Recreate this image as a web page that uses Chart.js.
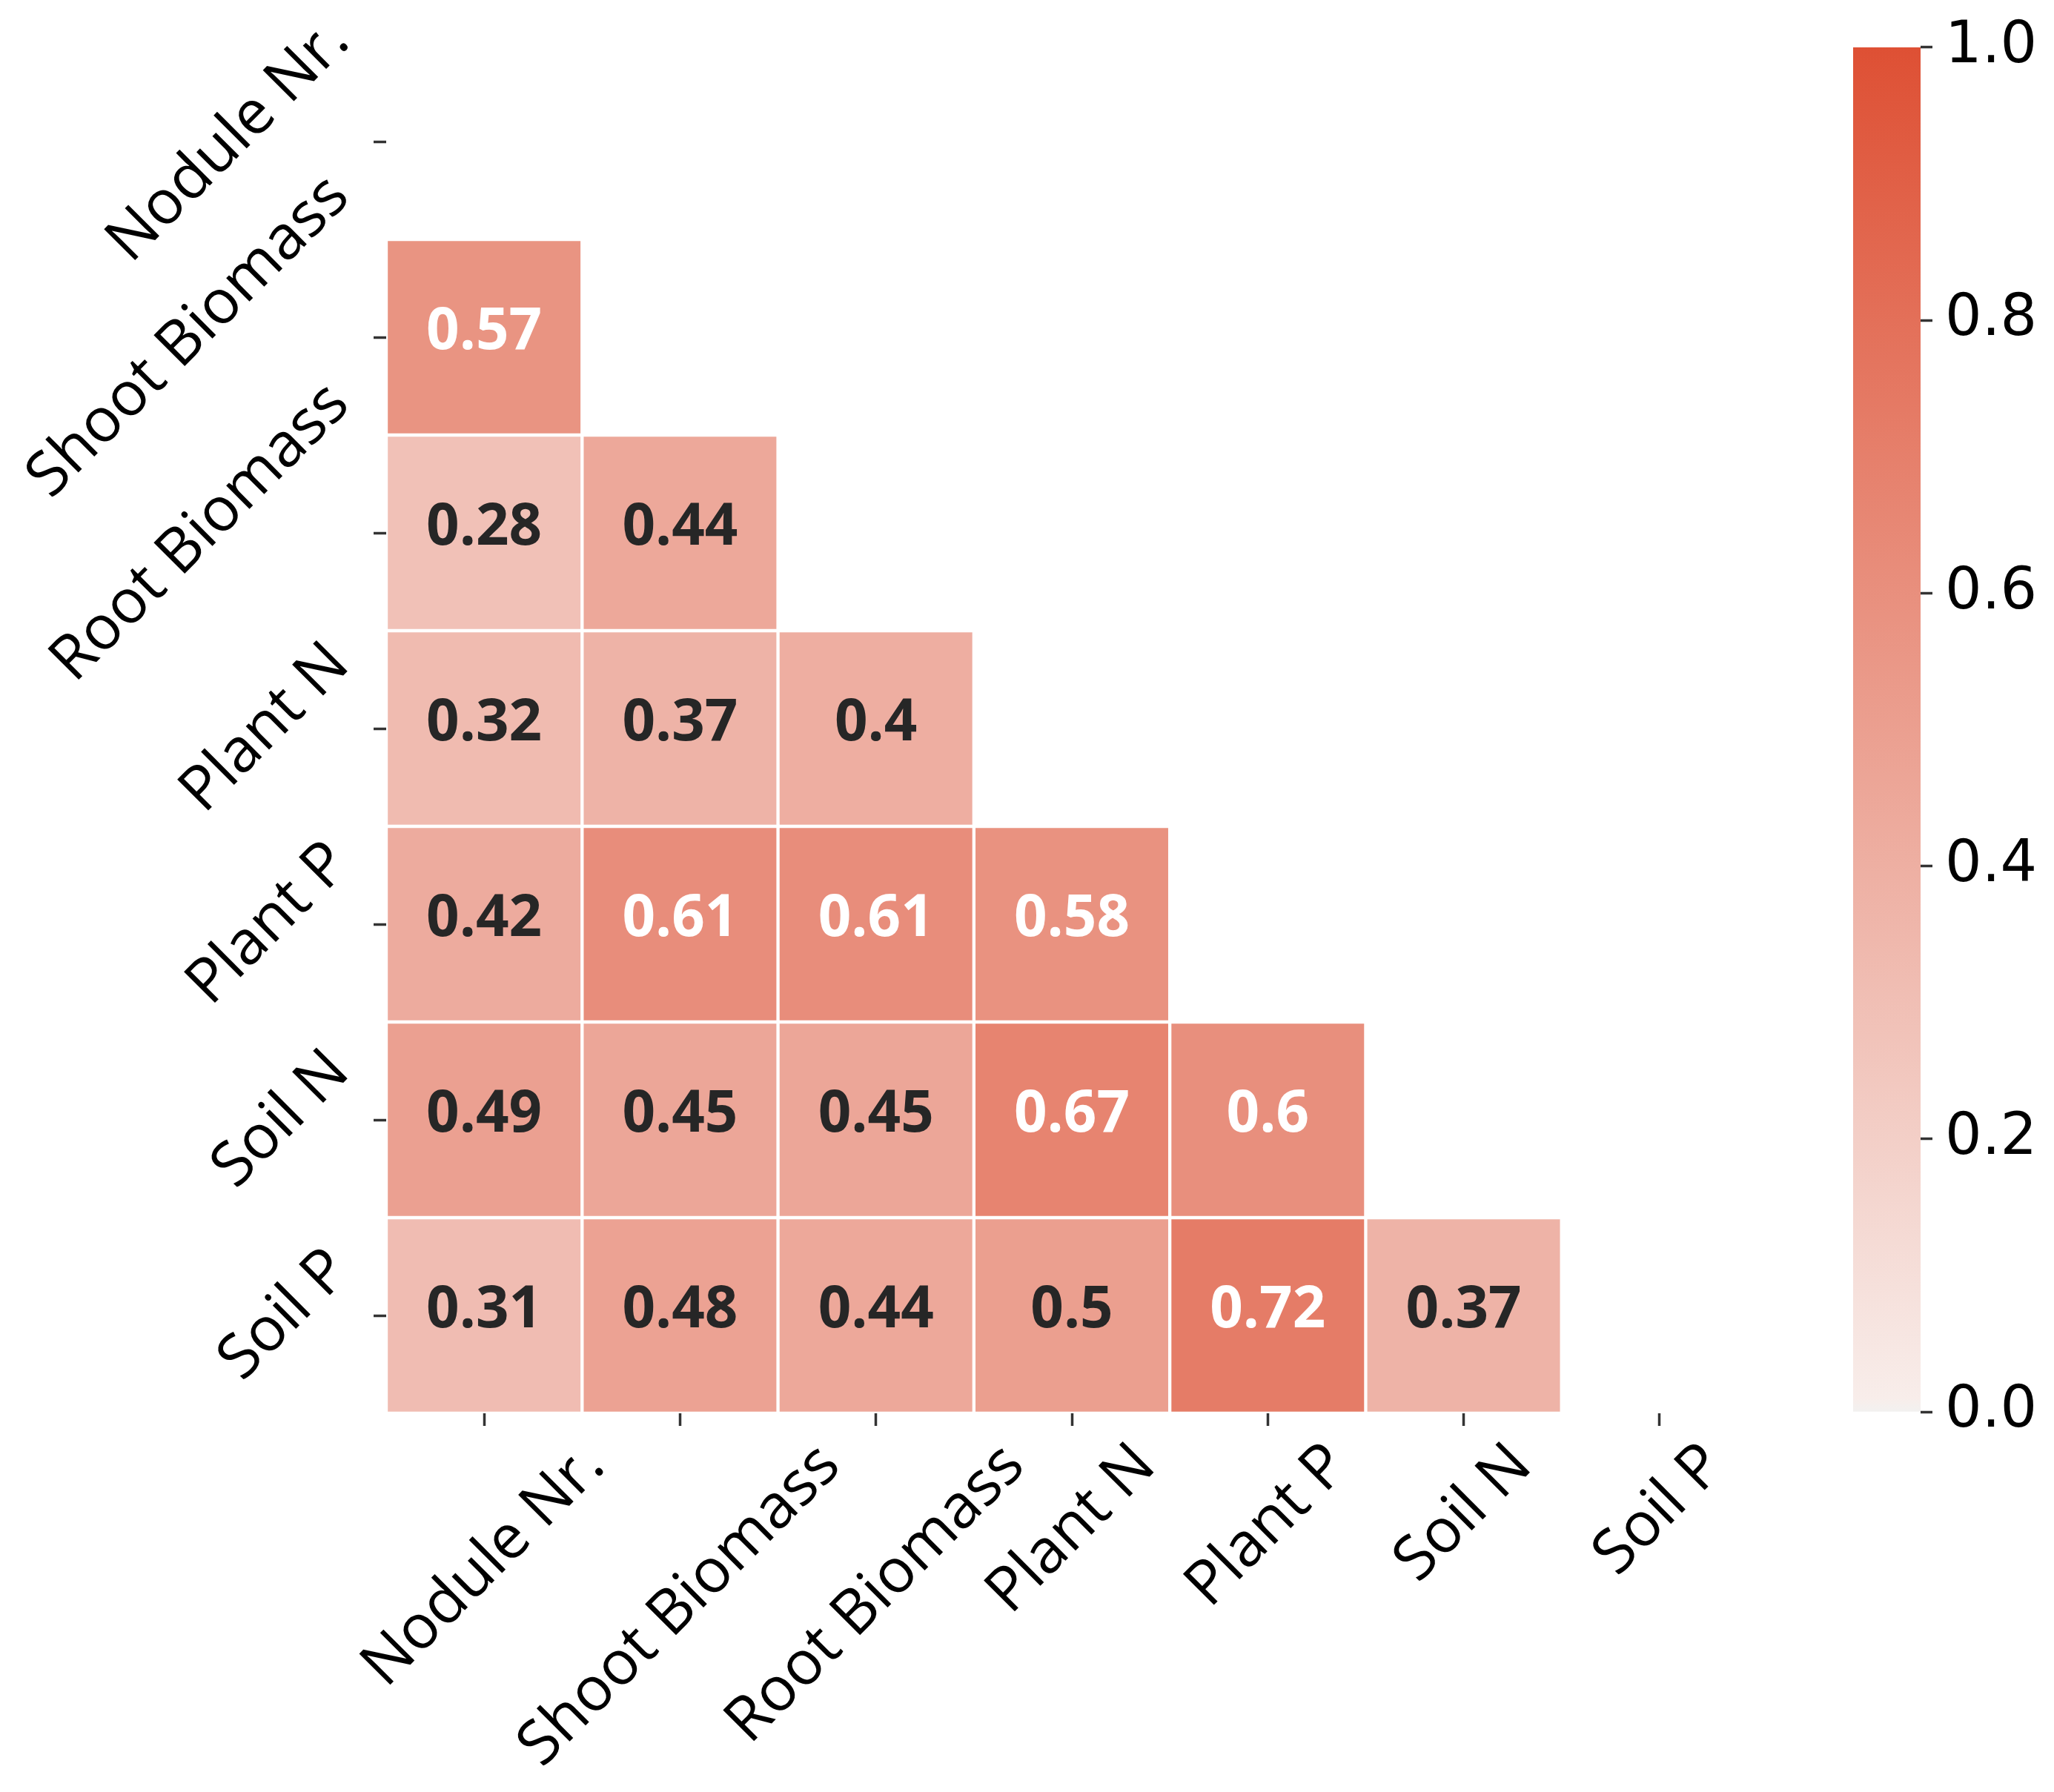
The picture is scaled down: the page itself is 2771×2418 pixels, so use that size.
<!DOCTYPE html>
<html>
<head>
<meta charset="utf-8">
<script src="https://cdn.jsdelivr.net/npm/chart.js@4.4.1/dist/chart.umd.min.js"></script>
<style>
  html, body { margin: 0; padding: 0; background: #fff; }
  #wrap { position: relative; width: 2771px; height: 2418px; }
  #heatmap { position: absolute; left: 0; top: 0; }
  #colorbar { position: absolute; left: 2400px; top: 0; }
</style>
</head>
<body>
<div id="wrap">
  <canvas id="heatmap" width="2400" height="2418"></canvas>
  <canvas id="colorbar" width="371" height="2418"></canvas>
</div>
<script>
// variables, used for both axes
const variables = ['Nodule Nr.', 'Shoot Biomass', 'Root Biomass', 'Plant N', 'Plant P', 'Soil N', 'Soil P'];

// lower triangle of the correlation matrix, one array per row
const noduleRow = [];
const shootBiomassRow = [0.57];
const rootBiomassRow = [0.28, 0.44];
const plantNRow = [0.32, 0.37, 0.4];
const plantPRow = [0.42, 0.61, 0.61, 0.58];
const soilNRow = [0.49, 0.45, 0.45, 0.67, 0.6];
const soilPRow = [0.31, 0.48, 0.44, 0.5, 0.72, 0.37];

const colorbarTicks = [0, 0.2, 0.4, 0.6, 0.8, 1.0];

const centerColor = [242, 241, 240];
const lowColor = [248, 237, 234];
const highColor = [222, 80, 52];

const LABEL_SIZE = 83;
const VALUE_SIZE = 78;
const TICK_LEN = 17;
const X_LABEL_PAD = 8;
const Y_LABEL_PAD = 14;

function mix(v) {
  return lowColor.map((c, k) => Math.round(c + (highColor[k] - c) * v));
}

function cellColor(v) {
  const [r, g, b] = mix(v);
  return `rgb(${r}, ${g}, ${b})`;
}

// same rule as seaborn: dark text on light cells, white on dark
function textColor(v) {
  const lin = mix(v).map(c => {
    c = c / 255;
    return c <= 0.03928 ? c / 12.92 : Math.pow((c + 0.055) / 1.055, 2.4);
  });
  const lum = 0.2126 * lin[0] + 0.7152 * lin[1] + 0.0722 * lin[2];
  return lum > 0.408 ? '#262626' : '#ffffff';
}

const rowValues = [noduleRow, shootBiomassRow, rootBiomassRow, plantNRow, plantPRow, soilNRow, soilPRow];

const datasets = rowValues
  .map((vals, i) => ({
    data: vals.map((v, j) => ({ x: variables[j], y: [i - 0.5, i + 0.5], v: v })),
    backgroundColor: vals.map(cellColor),
    borderColor: '#ffffff',
    borderWidth: 2.5,
    borderSkipped: false,
    barPercentage: 1,
    categoryPercentage: 1,
    grouped: false
  }))
  .filter(ds => ds.data.length);

const cellLabels = {
  id: 'cellLabels',
  afterDatasetsDraw(chart) {
    const ctx = chart.ctx;
    ctx.save();
    ctx.font = `bold ${VALUE_SIZE}px "Open Sans"`;
    ctx.textAlign = 'center';
    ctx.textBaseline = 'middle';
    chart.data.datasets.forEach((ds, di) => {
      chart.getDatasetMeta(di).data.forEach((el, idx) => {
        const v = ds.data[idx].v;
        ctx.fillStyle = textColor(v);
        ctx.fillText(String(v), el.x, (el.y + el.base) / 2 - 6);
      });
    });
    ctx.restore();
  }
};

const axisLabels = {
  id: 'axisLabels',
  afterDraw(chart) {
    const { ctx, chartArea } = chart;
    const { x, y } = chart.scales;
    const h = LABEL_SIZE * 1.1;
    ctx.save();
    ctx.font = `${LABEL_SIZE}px "Open Sans"`;
    ctx.fillStyle = '#000';
    ctx.textAlign = 'center';
    ctx.textBaseline = 'middle';
    variables.forEach((name, i) => {
      const w = ctx.measureText(name).width;
      const half = (w + h) / (2 * Math.SQRT2);

      ctx.save();
      ctx.translate(x.getPixelForValue(i), chartArea.bottom + TICK_LEN + X_LABEL_PAD + half);
      ctx.rotate(-Math.PI / 4);
      ctx.fillText(name, 0, 0);
      ctx.restore();

      ctx.save();
      ctx.translate(chartArea.left - TICK_LEN - Y_LABEL_PAD - half, y.getPixelForValue(i));
      ctx.rotate(-Math.PI / 4);
      ctx.fillText(name, 0, 0);
      ctx.restore();
    });
    ctx.restore();
  }
};

new Chart(document.getElementById('heatmap'), {
  type: 'bar',
  data: { labels: variables, datasets: datasets },
  options: {
    responsive: false,
    animation: false,
    devicePixelRatio: 1,
    layout: { padding: { left: 521 - TICK_LEN, right: 29, top: 59, bottom: 2418 - 1907 - TICK_LEN } },
    plugins: { legend: { display: false }, tooltip: { enabled: false } },
    scales: {
      x: {
        type: 'category',
        offset: true,
        border: { display: false },
        grid: { offset: false, drawOnChartArea: false, tickLength: TICK_LEN, tickWidth: 3.5, tickColor: '#333' },
        ticks: { display: false },
        afterFit: s => { s.height = TICK_LEN; }
      },
      y: {
        type: 'linear',
        min: -0.5,
        max: variables.length - 0.5,
        reverse: true,
        afterBuildTicks: s => { s.ticks = variables.map((_, i) => ({ value: i })); },
        border: { display: false },
        grid: { drawOnChartArea: false, tickLength: TICK_LEN, tickWidth: 3.5, tickColor: '#333' },
        ticks: { display: false },
        afterFit: s => { s.width = TICK_LEN; }
      }
    }
  },
  plugins: [cellLabels, axisLabels]
});

new Chart(document.getElementById('colorbar'), {
  type: 'bar',
  data: {
    labels: [''],
    datasets: [{
      data: [[colorbarTicks[0], colorbarTicks[colorbarTicks.length - 1]]],
      backgroundColor: (c) => {
        const chart = c.chart;
        const ys = chart.scales.y;
        const y0 = ys ? ys.getPixelForValue(0) : NaN;
        const y1 = ys ? ys.getPixelForValue(1) : NaN;
        if (!Number.isFinite(y0) || !Number.isFinite(y1)) return cellColor(0.5);
        const g = chart.ctx.createLinearGradient(0, y0, 0, y1);
        g.addColorStop(0, `rgb(${centerColor.join(',')})`);
        g.addColorStop(0.01, cellColor(0));
        g.addColorStop(1, cellColor(1));
        return g;
      },
      borderWidth: 0,
      barPercentage: 1,
      categoryPercentage: 1
    }]
  },
  options: {
    responsive: false,
    animation: false,
    devicePixelRatio: 1,
    layout: { padding: { left: 100, right: 5, top: 57, bottom: 2418 - 1905 } },
    plugins: { legend: { display: false }, tooltip: { enabled: false } },
    scales: {
      x: { display: false },
      y: {
        position: 'right',
        min: 0,
        max: 1,
        afterBuildTicks: s => { s.ticks = colorbarTicks.map(v => ({ value: v })); },
        afterFit: s => { s.width = 175; },
        border: { display: false },
        grid: { drawOnChartArea: false, tickLength: 16, tickWidth: 3.5, tickColor: '#333' },
        ticks: {
          padding: 17,
          color: '#000',
          font: { family: 'DejaVu Sans', size: 78 },
          callback: v => v.toFixed(1)
        }
      }
    }
  }
});
</script>
</body>
</html>
